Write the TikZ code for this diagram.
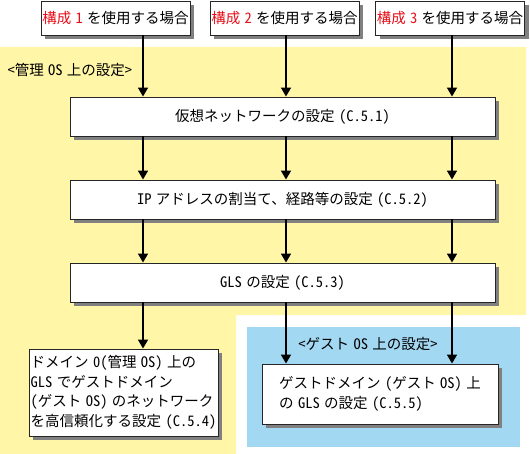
\documentclass[tikz,border=0pt]{standalone}
\usepackage{fontspec}
\setmainfont[RawFeature=+hwid, WordSpace=0.6]{Noto Sans CJK JP}
\usepackage{tikz}
\usetikzlibrary{arrows.meta,shadows}
\definecolor{hostyellow}{HTML}{FFF6A8}
\definecolor{guestblue}{HTML}{A2D8F2}
\definecolor{caseRed}{HTML}{E8101A}

\tikzset{
  txt/.style={font=\fontsize{14.5}{19.5}\selectfont},
  box/.style={txt, draw=black!85, fill=white, line width=0.9pt, inner xsep=1pt,
              drop shadow={shadow xshift=4pt, shadow yshift=-4pt, fill=black!50, opacity=1}},
  flow/.style={-{Triangle[width=10pt,length=9pt]}, line width=1.6pt},
}

\begin{document}
\begin{tikzpicture}[x=1pt, y=1pt]
    \useasboundingbox (0,0) rectangle (530,-454);
    \fill[hostyellow] (0,-47) -- (526,-47) -- (526,-315) -- (236,-315)
                      -- (236,-454) -- (0,-454) -- cycle;
    \fill[guestblue] (247,-327) rectangle (520,-447);

    \node[txt, anchor=west](H) at (4,-70) {＜管理 OS 上の設定＞};
    \node[txt](G) at (368,-344) {＜ゲスト OS 上の設定＞};

    \node[box, minimum width=149, minimum height=34](S1) at (115.5,-18) {\textcolor{caseRed}{構成 1} を使用する場合};
    \node[box, minimum width=149, minimum height=34](S2) at (284.5,-18) {\textcolor{caseRed}{構成 2} を使用する場合};
    \node[box, minimum width=149, minimum height=34](S3) at (450,-18) {\textcolor{caseRed}{構成 3} を使用する場合};

    \node[box, minimum width=425, minimum height=39](C1) at (282.5,-116.5) {仮想ネットワークの設定 (C.5.1)};
    \node[box, minimum width=425, minimum height=39](C2) at (282.5,-199.5) {IP アドレスの割当て、経路等の設定 (C.5.2)};
    \node[box, minimum width=425, minimum height=39](C3) at (282.5,-282.5) {GLS の設定 (C.5.3)};

    \node[box, minimum width=189, minimum height=87, align=left](D1) at (123.5,-392.5)
         {ドメイン 0(管理 OS) 上の\\GLS でゲストドメイン\\(ゲスト OS) のネットワーク\\を高信頼化する設定 (C.5.4)};
    \node[box, minimum width=236, minimum height=60, align=left](D2) at (380,-394)
         {ゲストドメイン (ゲスト OS) 上\\の GLS の設定 (C.5.5)};

    % columns of the arrows
    \coordinate(X1) at (143,0);
    \coordinate(X2) at (286,0);
    \coordinate(X3) at (452,0);

    \path[flow] (S1.south -| X1) edge (C1.north -| X1) (S2.south -| X2) edge (C1.north -| X2)
                (S3.south -| X3) edge (C1.north -| X3)
                (C1.south -| X1) edge (C2.north -| X1) (C1.south -| X2) edge (C2.north -| X2)
                (C1.south -| X3) edge (C2.north -| X3)
                (C2.south -| X1) edge (C3.north -| X1) (C2.south -| X2) edge (C3.north -| X2)
                (C2.south -| X3) edge (C3.north -| X3)
                (C3.south -| X1) edge (D1.north -| X1) (C3.south -| X2) edge (D2.north -| X2)
                (C3.south -| X3) edge (D2.north -| X3);
\end{tikzpicture}
\end{document}
